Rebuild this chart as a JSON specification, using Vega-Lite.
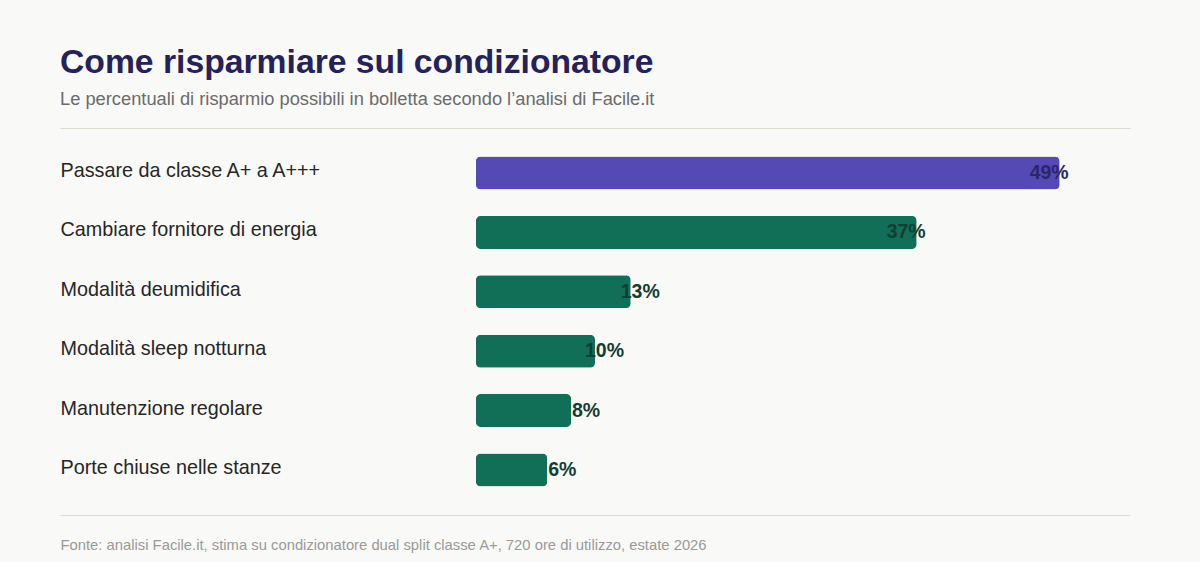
{
  "$schema": "https://vega.github.io/schema/vega-lite/v6.json",
  "autosize": {"type": "none"},
  "width": 1070,
  "height": 387,
  "padding": {"left": 60, "top": 128, "right": 70, "bottom": 47},
  "background": "#f9f9f7",
  "config": {
    "view": {"stroke": null},
    "font": "Liberation Sans"
  },
  "title": {
    "text": "Come risparmiare sul condizionatore",
    "subtitle": "Le percentuali di risparmio possibili in bolletta secondo l’analisi di Facile.it",
    "anchor": "start",
    "font": "Liberation Sans",
    "fontSize": 33.7,
    "fontWeight": "bold",
    "color": "#25215b",
    "subtitleFont": "Liberation Sans",
    "subtitleFontSize": 18.3,
    "subtitleColor": "#6b6b6b",
    "subtitlePadding": 11,
    "offset": 20
  },
  "data": {
    "values": [
      {"voce": "Passare da classe A+ a A+++", "risparmio": 49, "gruppo": "evidenza"},
      {"voce": "Cambiare fornitore di energia", "risparmio": 37, "gruppo": "altro"},
      {"voce": "Modalità deumidifica", "risparmio": 13, "gruppo": "altro"},
      {"voce": "Modalità sleep notturna", "risparmio": 10, "gruppo": "altro"},
      {"voce": "Manutenzione regolare", "risparmio": 8, "gruppo": "altro"},
      {"voce": "Porte chiuse nelle stanze", "risparmio": 6, "gruppo": "altro"}
    ]
  },
  "transform": [{"calculate": "datum.risparmio + '%'", "as": "etichetta"}],
  "encoding": {
    "y": {
      "field": "voce",
      "type": "nominal",
      "sort": null,
      "scale": {"paddingInner": 0.445, "paddingOuter": 0.48},
      "axis": {
        "title": null,
        "domain": false,
        "ticks": false,
        "tickSize": 0,
        "labelAlign": "left",
        "labelPadding": 0,
        "labelFont": "Liberation Sans",
        "labelFontSize": 19.8,
        "labelColor": "#262626",
        "labelOffset": -2,
        "labelLimit": 400
      }
    }
  },
  "layer": [
    {
      "mark": {"type": "bar", "cornerRadius": 5},
      "encoding": {
        "x": {
          "field": "risparmio",
          "type": "quantitative",
          "scale": {"domain": [-34.9, 54.9], "nice": false, "zero": false},
          "axis": {
            "orient": "bottom",
            "domain": true,
            "domainColor": "#dddbd0",
            "domainWidth": 1,
            "ticks": false,
            "labels": false,
            "grid": false,
            "title": "Fonte: analisi Facile.it, stima su condizionatore dual split classe A+, 720 ore di utilizzo, estate 2026",
            "titleAnchor": "start",
            "titleAlign": "left",
            "titleFont": "Liberation Sans",
            "titleFontSize": 14.8,
            "titleFontWeight": "normal",
            "titleColor": "#9a9a9a",
            "titlePadding": 22,
            "titleBaseline": "top"
          }
        },
        "color": {
          "field": "gruppo",
          "type": "nominal",
          "scale": {"domain": ["evidenza", "altro"], "range": ["#5449b5", "#116f57"]},
          "legend": null
        }
      }
    },
    {
      "transform": [{"filter": "datum.risparmio >= 20"}],
      "mark": {"type": "text", "align": "right", "baseline": "middle", "dx": 9, "fontSize": 19.5, "fontWeight": "bold", "font": "Liberation Sans"},
      "encoding": {
        "x": {
          "field": "risparmio",
          "type": "quantitative",
          "axis": {
            "orient": "top",
            "domain": true,
            "domainColor": "#dddbd0",
            "domainWidth": 1,
            "ticks": false,
            "labels": false,
            "grid": false,
            "title": null
          }
        },
        "text": {"field": "etichetta", "type": "nominal"},
        "color": {
          "field": "gruppo",
          "type": "nominal",
          "scale": {"domain": ["evidenza", "altro"], "range": ["#2b2667", "#143d33"]},
          "legend": null
        }
      }
    },
    {
      "transform": [{"filter": "datum.risparmio < 20"}],
      "mark": {"type": "text", "align": "right", "baseline": "middle", "dx": 29, "fontSize": 19.5, "fontWeight": "bold", "font": "Liberation Sans", "color": "#143d33"},
      "encoding": {
        "x": {"field": "risparmio", "type": "quantitative", "axis": null},
        "text": {"field": "etichetta", "type": "nominal"}
      }
    }
  ],
  "resolve": {"axis": {"x": "independent"}, "scale": {"color": "independent"}}
}
